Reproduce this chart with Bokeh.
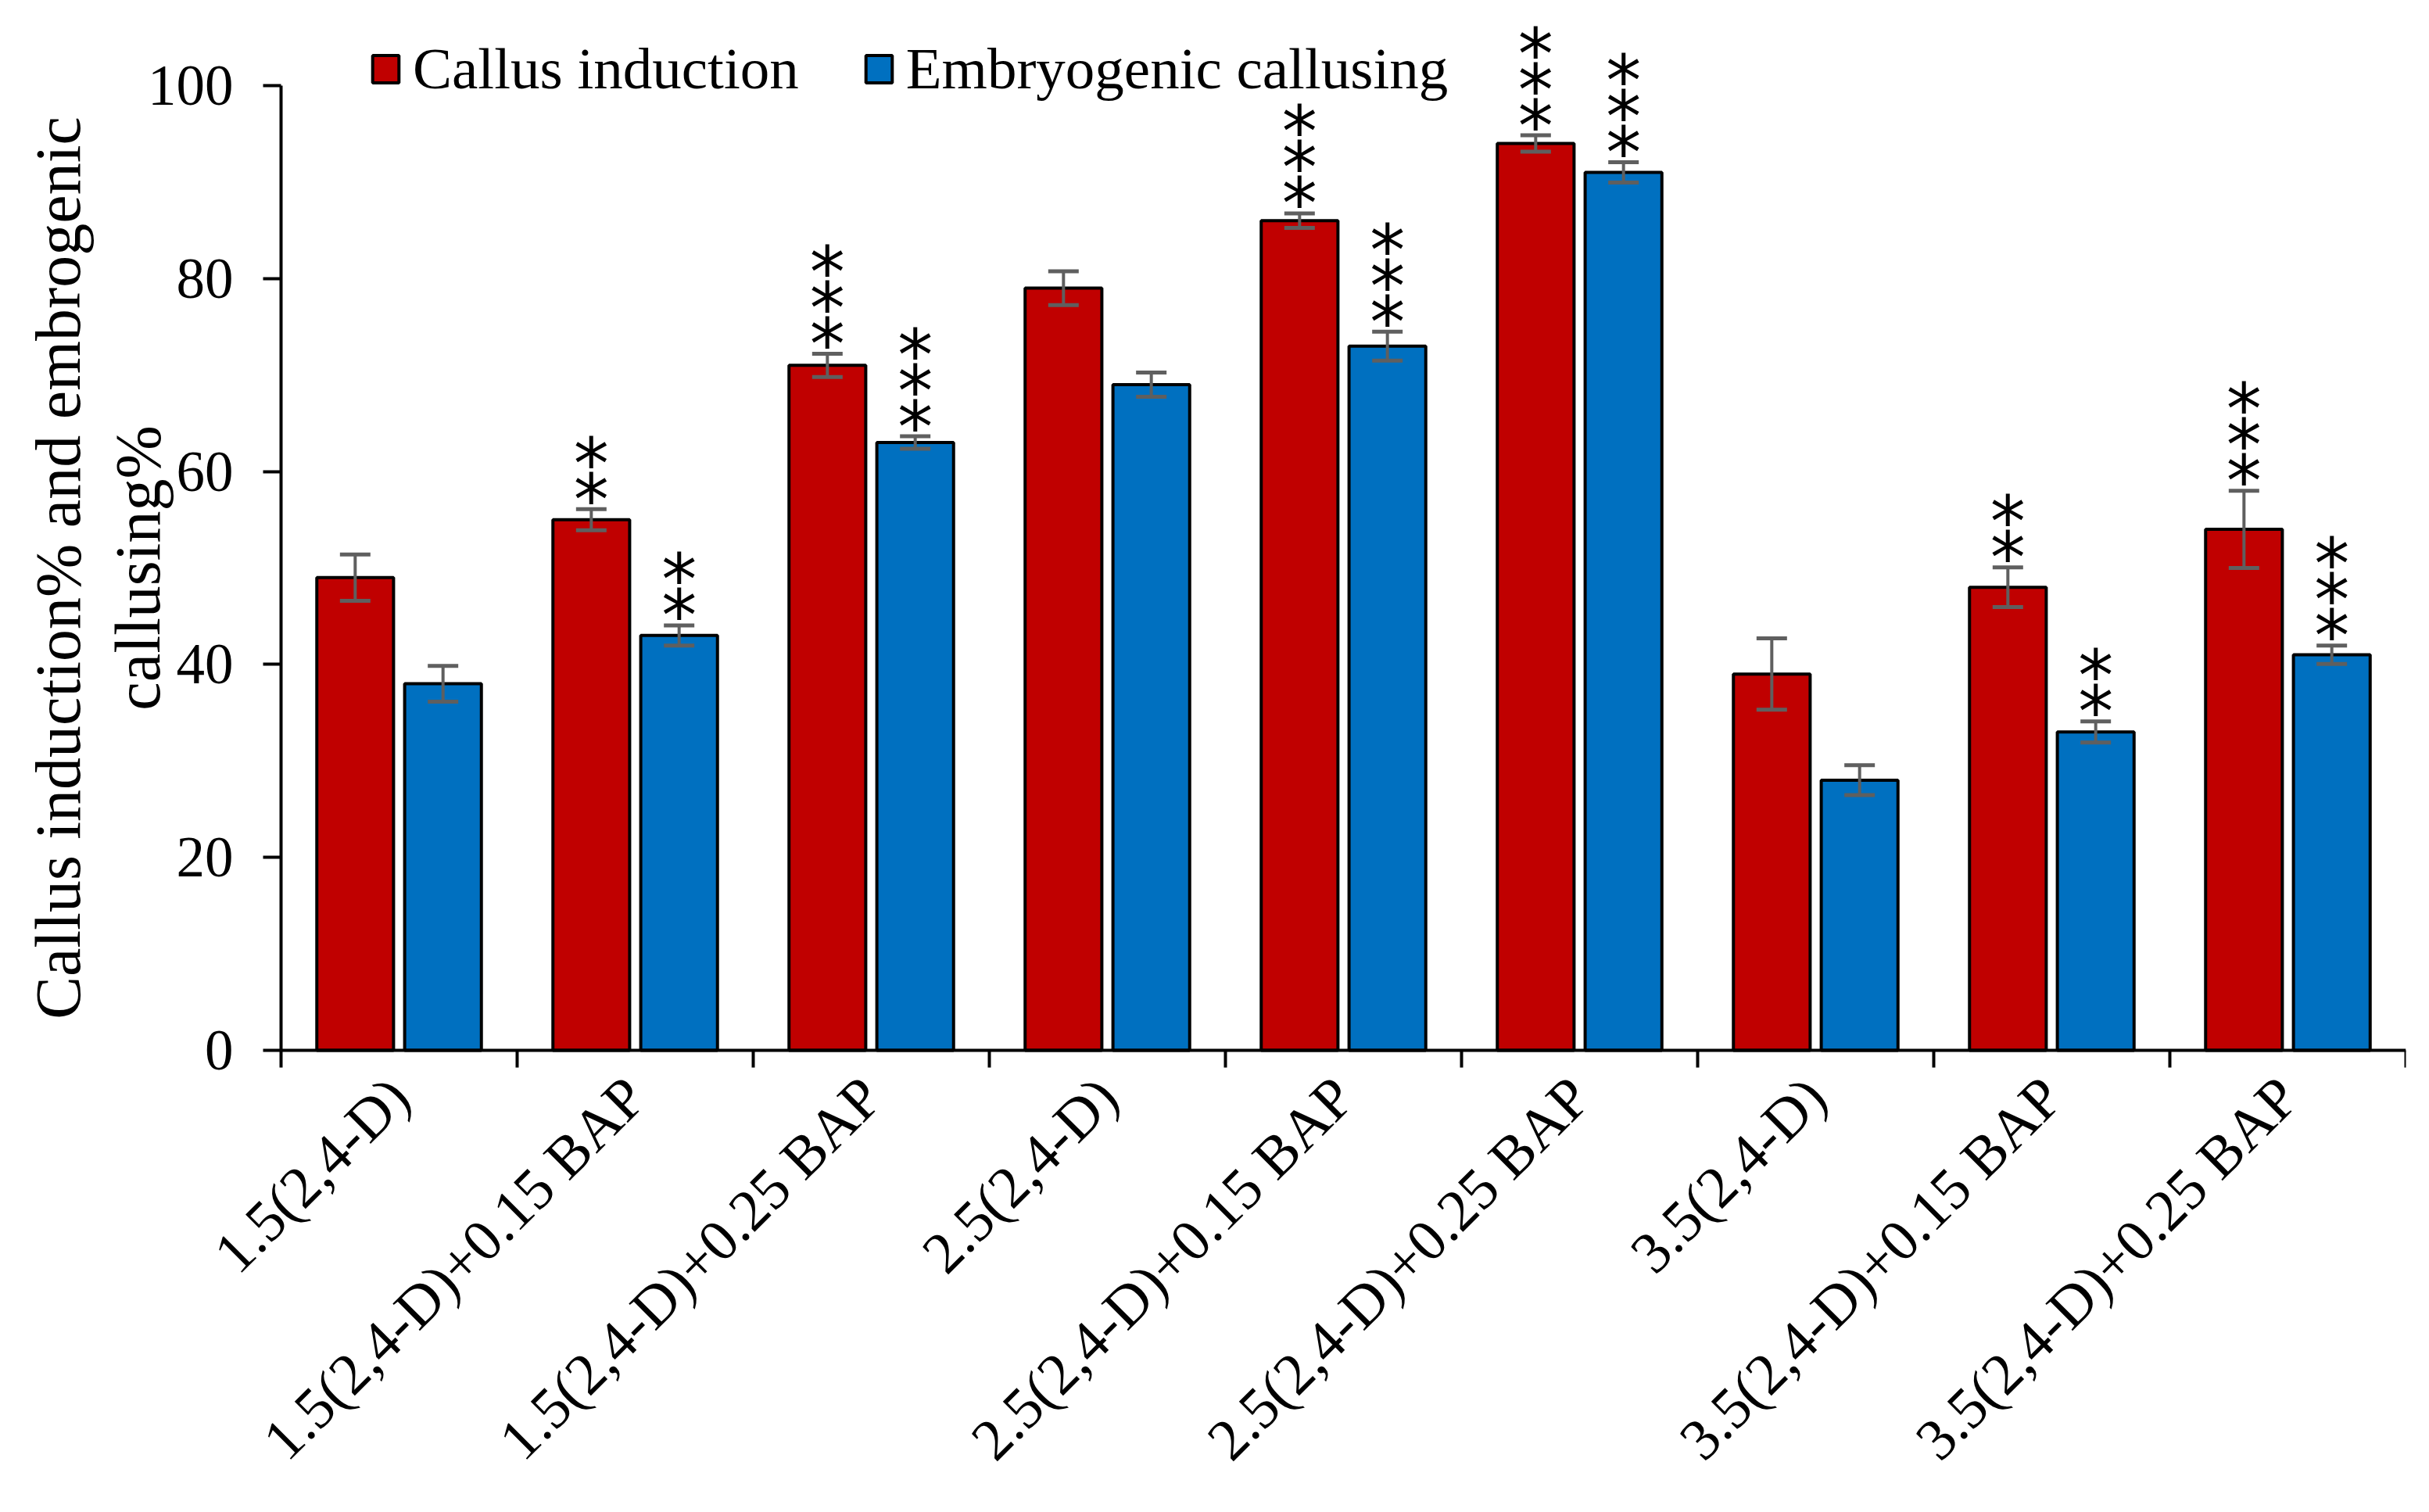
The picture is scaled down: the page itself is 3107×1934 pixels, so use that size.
from math import pi
from bokeh.plotting import figure
from bokeh.models import (ColumnDataSource, Range1d, FixedTicker, Whisker,
                          Legend, LegendItem, Label, LinearAxis)
from bokeh.core.properties import value
from bokeh.embed import file_html
from bokeh.resources import INLINE

treatments = ["1.5(2,4-D)", "1.5(2,4-D)+0.15 BAP", "1.5(2,4-D)+0.25 BAP",
              "2.5(2,4-D)", "2.5(2,4-D)+0.15 BAP", "2.5(2,4-D)+0.25 BAP",
              "3.5(2,4-D)", "3.5(2,4-D)+0.15 BAP", "3.5(2,4-D)+0.25 BAP"]
callus = [49, 55, 71, 79, 86, 94, 39, 48, 54]
callus_sd = [2.4, 1.1, 1.2, 1.75, 0.75, 0.85, 3.7, 2.05, 4.0]
callus_sig = [0, 2, 3, 0, 3, 3, 0, 2, 3]
embryo = [38, 43, 63, 69, 73, 91, 28, 33, 41]
embryo_sd = [1.85, 1.05, 0.65, 1.25, 1.5, 1.05, 1.55, 1.1, 0.95]
embryo_sig = [0, 2, 3, 0, 3, 3, 0, 2, 3]
y_ticks = [0, 20, 40, 60, 80, 100]
y_title = "Callus induction% and embrogenic\ncallusing%"

RED = "#C00000"
BLUE = "#0070C0"
GREY = "#5f5f5f"
SERIF = "Liberation Serif"

n = len(treatments)
centers = [i + 0.5 for i in range(n)]
shift = 0.186          # half distance between the two bars of a group
star_first = 12        # px above the error bar for the first asterisk
star_step = 46         # px between stacked asterisks
left_pad = 359 / 302   # room left of the y axis, in group widths
low_pad = 3.0          # room under y = 0 for the "0" tick label


def bar_source(vals, sd, side):
    return ColumnDataSource(dict(
        x=[c + side * shift for c in centers],
        top=vals,
        upper=[v + e for v, e in zip(vals, sd)],
        lower=[v - e for v, e in zip(vals, sd)],
    ))


def star_source(src, counts):
    xs, ys, offs = [], [], []
    for x, up, k in zip(src.data["x"], src.data["upper"], counts):
        for j in range(k):
            xs.append(x)
            ys.append(up)
            offs.append(-(star_first + j * star_step))
    return ColumnDataSource(dict(x=xs, y=ys, off=offs, t=["*"] * len(xs)))


src_c = bar_source(callus, callus_sd, -1)
src_e = bar_source(embryo, embryo_sd, 1)

p = figure(width=3090, height=1916, x_range=Range1d(-left_pad, n),
           y_range=Range1d(-low_pad, 108.83),
           output_backend="svg", toolbar_location=None,
           min_border_left=0, min_border_right=13, min_border_top=0, min_border_bottom=536)
p.xgrid.visible = False
p.ygrid.visible = False
p.outline_line_color = None

r1 = p.vbar(x="x", top="top", width=0.325, source=src_c,
            fill_color=RED, line_color="black", line_width=4)
r2 = p.vbar(x="x", top="top", width=0.325, source=src_e,
            fill_color=BLUE, line_color="black", line_width=4)

for src in (src_c, src_e):
    w = Whisker(base="x", upper="upper", lower="lower", source=src,
                line_color=GREY, line_width=4, level="overlay")
    for head in (w.upper_head, w.lower_head):
        head.size = 39
        head.line_color = GREY
        head.line_width = 5
    p.add_layout(w)

for src, counts in ((src_c, callus_sig), (src_e, embryo_sig)):
    p.text(x="x", y="y", y_offset="off", text="t", source=star_source(src, counts),
           text_font=value("DejaVu Sans"), text_font_size="90px",
           text_align="center", text_baseline="middle", text_color="black")

# y axis, drawn at x = 0 inside the frame
ya = p.yaxis[0]
ya.fixed_location = 0
ya.ticker = FixedTicker(ticks=y_ticks, minor_ticks=[])
ya.bounds = (0, 100)
ya.axis_line_width = 4
ya.major_tick_line_width = 4
ya.major_tick_out = 23
ya.major_tick_in = 0
ya.minor_tick_out = 0
ya.major_label_standoff = 38
ya.major_label_text_font = SERIF
ya.major_label_text_font_size = "73px"
ya.major_label_text_color = "black"

# axis title centred on the 0-100 span of the axis
p.add_layout(Label(x=125, y=50, x_units="screen", y_units="data", angle=pi / 2,
                   text=y_title, text_font=SERIF, text_font_size="82px",
                   text_align="center", text_baseline="middle",
                   text_line_height=1.13, text_color="black"))

# x axis line at y = 0 with tick marks between the groups
xa = p.xaxis[0]
xa.fixed_location = 0
xa.bounds = (0, n)
xa.ticker = FixedTicker(ticks=[], minor_ticks=list(range(n + 1)))
xa.axis_line_width = 4
xa.major_tick_out = 0
xa.major_tick_in = 0
xa.minor_tick_out = 22
xa.minor_tick_in = 0
xa.minor_tick_line_width = 4
xa.minor_tick_line_color = "black"

# group names under the frame
xl = LinearAxis(ticker=FixedTicker(ticks=centers, minor_ticks=[]),
                major_label_overrides={c: t for c, t in zip(centers, treatments)},
                axis_line_color=None, major_tick_line_color=None,
                minor_tick_line_color=None, major_tick_out=0, minor_tick_out=0,
                major_label_orientation=pi / 4, major_label_standoff=10,
                major_label_text_font=SERIF, major_label_text_font_size="75px",
                major_label_text_color="black")
p.add_layout(xl, "below")

legend = Legend(items=[LegendItem(label="Callus induction", renderers=[r1]),
                       LegendItem(label="Embryogenic callusing", renderers=[r2])],
                orientation="horizontal", location=(472, 1380 - 131),
                glyph_width=42, glyph_height=44, label_standoff=14, spacing=81,
                label_text_font=SERIF, label_text_font_size="75px",
                label_text_color="black",
                padding=0, margin=0, border_line_color=None, background_fill_alpha=0)
p.add_layout(legend)

open("out.html", "w").write(file_html(p, INLINE))
